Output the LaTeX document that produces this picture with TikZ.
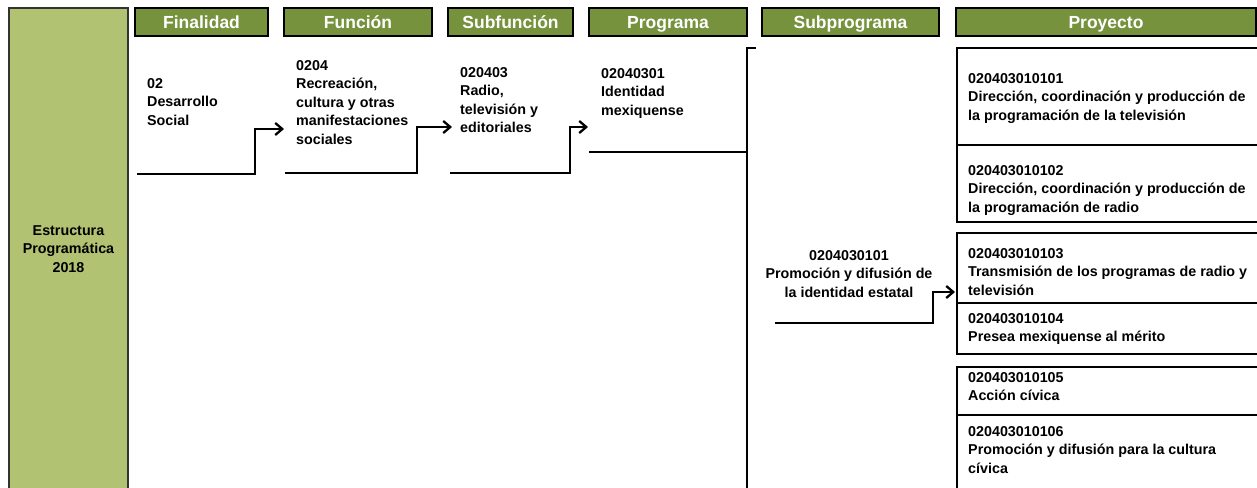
\documentclass[tikz,border=0pt]{standalone}
\usepackage{fontspec}
\setmainfont{Liberation Sans}
\usetikzlibrary{arrows.meta}

\definecolor{headgreen}{RGB}{118,146,60}
\definecolor{leafgreen}{RGB}{177,194,114}

\begin{document}
\begin{tikzpicture}[
    x=1pt,
    y=-1pt,
    header/.style={
        draw=black,
        line width=1.3pt,
        fill=headgreen,
        text=white,
        font=\fontsize{17.5}{20}\selectfont\bfseries,
        minimum height=28pt,
        text height=12.6pt,
        text depth=0pt,
        inner sep=0pt
    },
    code/.style={
        anchor=north west,
        align=left,
        inner sep=0pt,
        font=\fontsize{14.3}{18.5}\selectfont\bfseries
    },
    flow/.style={
        line width=2.3pt,
        -{Straight Barb[length=7pt,width=12pt]}
    },
    pbox/.style={
        line width=2.6pt
    }
]

    \useasboundingbox (0,0) rectangle (1257,487);
    \clip (0,0) rectangle (1257,487);

    % left column
    \draw[fill=leafgreen, draw=black!80, line width=1.3pt] (9,8) rectangle (128,495);
    \node[code, anchor=north, align=center] (estr) at (68.5,225) {Estructura\\Programática\\2018};

    % headers
    \node[header, minimum width=133pt] (hfin) at (201.5,22) {Finalidad};
    \node[header, minimum width=148pt] (hfun) at (358,22) {Función};
    \node[header, minimum width=125pt] (hsub) at (510.5,22) {Subfunción};
    \node[header, minimum width=158pt] (hprog) at (668,22) {Programa};
    \node[header, minimum width=177pt] (hsubprog) at (850.5,22) {Subprograma};
    \node[header, minimum width=300pt] (hproy) at (1106,22) {Proyecto};

    % codes
    \node[code] (fin) at (147,78) {02\\Desarrollo\\Social};
    \node[code] (fun) at (296,60) {0204\\Recreación,\\cultura y otras\\manifestaciones\\sociales};
    \node[code] (sub) at (460,67) {020403\\Radio,\\televisión y\\editoriales};
    \node[code] (prog) at (601,68) {02040301\\Identidad\\mexiquense};
    \node[code, anchor=north, align=center] (subprog) at (849,250) {0204030101\\Promoción y difusión de\\la identidad estatal};

    \node[code] (p1) at (968,73) {020403010101\\Dirección, coordinación y producción de\\la programación de la televisión};
    \node[code] (p2) at (968,165) {020403010102\\Dirección, coordinación y producción de\\la programación de radio};
    \node[code] (p3) at (968,248) {020403010103\\Transmisión de los programas de radio y\\televisión};
    \node[code] (p4) at (968,313) {020403010104\\Presea mexiquense al mérito};
    \node[code] (p5) at (968,372) {020403010105\\Acción cívica};
    \node[code] (p6) at (968,426) {020403010106\\Promoción y difusión para la cultura\\cívica};

    % project boxes
    \draw[pbox] (1260,48) -| (957,222) -- (1260,222);
    \draw[line width=1.8pt] (957,145) -- (1260,145);
    \draw[pbox] (1260,233) -| (957,354) -- (1260,354);
    \draw[pbox] (957,303) -- (1260,303);
    \draw[pbox] (1260,367) -| (957,495);
    \draw[pbox] (957,415) -- (1260,415);

    % connectors
    \coordinate (fin-out) at (137,174);
    \coordinate (fun-in) at (284,129);
    \coordinate (fun-out) at (285,173);
    \coordinate (sub-in) at (452,127);
    \coordinate (sub-out) at (450,173);
    \coordinate (prog-in) at (588,127);
    \coordinate (prog-out) at (589,152);
    \coordinate (brk-top) at (756,48);
    \coordinate (brk-bot) at (747,495);
    \coordinate (subprog-out) at (775,323);
    \coordinate (proy-in) at (955,292);

    \draw[flow] (fin-out) -| ([xshift=-29pt]fun-in) -- (fun-in);
    \draw[flow] (fun-out) -| ([xshift=-35pt]sub-in) -- (sub-in);
    \draw[flow] (sub-out) -| ([xshift=-18pt]prog-in) -- (prog-in);
    \draw[line width=2.8pt] (brk-top) -| (brk-bot);
    \draw[line width=2.6pt] (prog-out) -- (prog-out -| brk-bot);
    \draw[flow] (subprog-out) -| ([xshift=-22pt]proy-in) -- (proy-in);

\end{tikzpicture}
\end{document}
